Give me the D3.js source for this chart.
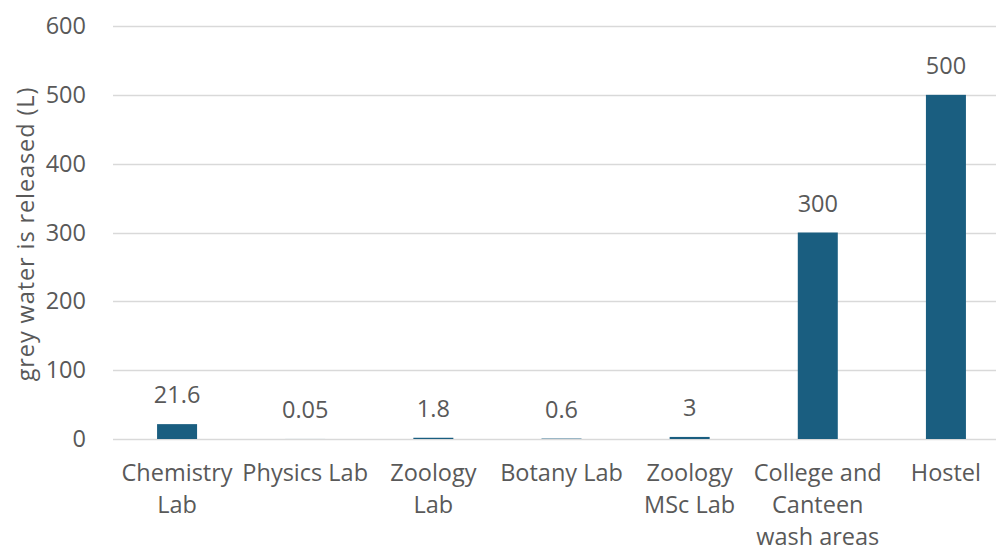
<!DOCTYPE html>
<html>
<head>
<meta charset="utf-8">
<script src="https://cdn.jsdelivr.net/npm/d3@7"></script>
<style>
  html, body { margin: 0; padding: 0; background: #fff; }
  svg { display: block; }
  text { font-family: "Open Sans", "Liberation Sans", sans-serif; fill: #595959; }
</style>
</head>
<body>
<svg id="chart" width="996" height="547"></svg>
<script>
// Grey water released per source (litres)
const categories = [
  ["Chemistry", "Lab"],
  ["Physics Lab"],
  ["Zoology", "Lab"],
  ["Botany Lab"],
  ["Zoology", "MSc Lab"],
  ["College and", "Canteen", "wash areas"],
  ["Hostel"]
];
const values = [21.6, 0.05, 1.8, 0.6, 3, 300, 500];
const valueLabels = ["21.6", "0.05", "1.8", "0.6", "3", "300", "500"];
const yTicks = [0, 100, 200, 300, 400, 500, 600];
const yTitle = "grey water is released (L)";

const FS = 23.5;
const svg = d3.select("#chart");
const margin = { left: 113, right: 1010, top: 26, bottom: 439 };

const keys = categories.map((c, i) => i);
const x = d3.scaleBand().domain(keys).range([margin.left, margin.right]).paddingInner(0.69).paddingOuter(0.345);
const y = d3.scaleLinear().domain([0, 600]).range([margin.bottom, margin.top]);

// Horizontal gridlines
svg.append("g")
  .selectAll("line")
  .data(yTicks)
  .join("line")
  .attr("x1", margin.left)
  .attr("x2", margin.right)
  .attr("y1", d => Math.round(y(d)) + 0.5)
  .attr("y2", d => Math.round(y(d)) + 0.5)
  .attr("stroke", "#d9d9d9")
  .attr("stroke-width", 1.3);

// Y axis tick labels
const yAxis = d3.axisLeft(y).tickValues(yTicks).tickSize(0).tickPadding(0);
const yg = svg.append("g").attr("transform", `translate(86,0)`).call(yAxis);
yg.select(".domain").remove();
yg.selectAll("text")
  .attr("font-size", FS)
  .attr("font-family", "Open Sans, sans-serif")
  .attr("fill", "#595959");

// Bars
const barW = 40;
svg.append("g")
  .selectAll("rect")
  .data(values)
  .join("rect")
  .attr("x", (d, i) => x(i) + x.bandwidth() / 2 - barW / 2)
  .attr("width", barW)
  .attr("y", d => y(d))
  .attr("height", d => y(0) - y(d))
  .attr("fill", "#1a5e80");

// Value labels
svg.append("g")
  .selectAll("text")
  .data(values)
  .join("text")
  .attr("x", (d, i) => x(i) + x.bandwidth() / 2)
  .attr("y", d => y(d) - 21)
  .attr("text-anchor", "middle")
  .attr("font-size", FS)
  .text((d, i) => valueLabels[i]);

// Category labels
const cat = svg.append("g")
  .selectAll("text")
  .data(categories)
  .join("text")
  .attr("text-anchor", "middle")
  .attr("font-size", FS);
cat.each(function(lines, i) {
  const t = d3.select(this);
  lines.forEach((ln, j) => {
    t.append("tspan")
      .attr("x", x(i) + x.bandwidth() / 2)
      .attr("y", 481 + j * 32)
      .text(ln);
  });
});

// Y axis title
svg.append("text")
  .attr("transform", `translate(34,234) rotate(-90)`)
  .attr("text-anchor", "middle")
  .attr("font-size", FS)
  .attr("letter-spacing", 0.9)
  .text(yTitle);
</script>
</body>
</html>
